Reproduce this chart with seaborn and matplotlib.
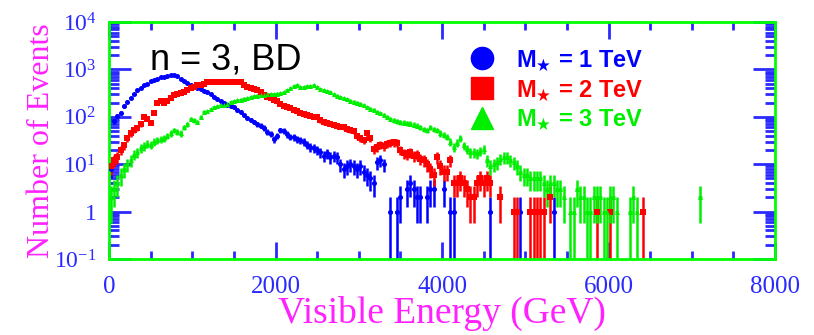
import numpy as np
import pandas as pd
import matplotlib
matplotlib.use("Agg")
import matplotlib.pyplot as plt
import seaborn as sns
from matplotlib.lines import Line2D
from matplotlib.ticker import MultipleLocator, FixedLocator, FixedFormatter, NullFormatter

# ---------------- data (counts per 40 GeV bin, first bin centred at 20 GeV) ----------------
bin_width = 40
first_center = 20

blue_counts = [
    8, 80, 105, 120, 170, 210, 250, 300, 360, 400,
    460, 500, 570, 600, 640, 680, 700, 720, 750, 760,
    720, 640, 580, 520, 460, 430, 400, 380, 350, 330,
    300, 265, 240, 215, 195, 180, 165, 160, 140, 125,
    108, 96, 86, 78, 70, 65, 58, 48, 44, 34,
    40, 52, 50, 43, 38, 37, 34, 32, 30, 26,
    23, 22, 20, 18, 15, 17, 14, 15, 14, 10,
    8, 9, 10, 9, 8, 9, 7, 6, 5, 4,
    11, 12, 10, 0, 1, 0, 1, 2, 0, 3,
    4, 3, 2, 2, 0, 2, 3, 3, 0, 0,
    3, 0, 1, 1, 0, 0, 0, 0, 0, 0,
    0, 0, 0, 0, 1, 0, 0, 0, 0, 0,
    0, 0, 0, 1, 0, 0, 0, 0, 0, 0,
    0, 0, 0, 1,
]

red_counts = [
    9, 12, 14, 20, 25, 35, 45, 52, 58, 70,
    98, 90, 75, 120, 200, 215, 195, 215, 250, 290,
    300, 320, 340, 360, 400, 430, 460, 470, 500, 530,
    540, 540, 545, 540, 545, 540, 545, 540, 545, 530,
    470, 425, 400, 380, 360, 330, 290, 260, 245, 230,
    220, 190, 170, 160, 150, 140, 130, 118, 112, 108,
    105, 100, 98, 85, 77, 75, 72, 68, 65, 62,
    60, 55, 52, 50, 40, 35, 32, 45, 36, 21,
    23, 26, 24, 27, 28, 29, 28, 20, 17, 16,
    18, 15, 16, 13, 12, 10, 8, 6, 14, 9,
    7, 7, 12, 4, 4, 5, 4, 3, 2, 2,
    4, 5, 4, 5, 4, 0, 0, 2, 0, 0,
    0, 1, 1, 0, 0, 0, 1, 1, 1, 1,
    1, 0, 2, 0, 0, 0, 0, 0, 0, 0,
    0, 0, 0, 0, 0, 0, 1, 0, 0, 0,
    1, 0, 0, 0, 0, 0, 0, 0, 0, 0,
    1,
]

green_counts = [
    2, 3, 4, 6, 8, 10, 12, 16, 18, 22,
    24, 27, 26, 30, 32, 34, 35, 40, 45, 52,
    48, 45, 60, 70, 90, 85, 78, 100, 125, 130,
    145, 160, 165, 175, 180, 190, 205, 215, 225, 230,
    240, 250, 260, 270, 280, 290, 295, 300, 305, 300,
    310, 320, 330, 360, 400, 440, 460, 430, 425, 440,
    450, 460, 420, 390, 370, 350, 330, 300, 280, 260,
    250, 235, 220, 210, 200, 190, 175, 160, 148, 140,
    125, 118, 110, 100, 91, 85, 80, 77, 75, 73,
    72, 68, 65, 60, 55, 52, 60, 55, 52, 45,
    42, 38, 30, 23, 28, 35, 25, 21, 18, 18,
    17, 19, 21, 12, 9, 10, 11, 13, 14, 14,
    12, 11, 9, 7, 6, 6, 5, 5, 5, 5,
    4, 3, 4, 4, 3, 3, 2, 0, 1, 1,
    3, 2, 2, 1, 1, 2, 2, 2, 1, 1,
    2, 2, 1, 0, 0, 0, 1, 2, 1, 0,
    0, 0, 0, 0, 0, 0, 0, 0, 0, 0,
    0, 0, 0, 0, 0, 0, 0, 2,
]

series_names = ["M1", "M2", "M3"]
series_labels = [r"$\mathbf{M}_{\bigstar}$ = 1 TeV", r"$\mathbf{M}_{\bigstar}$ = 2 TeV",
                 r"$\mathbf{M}_{\bigstar}$ = 3 TeV"]
series_colors = ["#0000ff", "#ff0000", "#00ee00"]
series_markers = ["o", "s", "^"]

x_major_ticks = [0, 2000, 4000, 6000, 8000]
y_major_ticks = [0.1, 1, 10, 100, 1000, 10000]
y_tick_labels = [r"$\mathregular{10^{-1}}$", "1", r"$\mathregular{10^{1}}$",
                 r"$\mathregular{10^{2}}$", r"$\mathregular{10^{3}}$", r"$\mathregular{10^{4}}$"]

frames = []
for name, counts in zip(series_names, [blue_counts, red_counts, green_counts]):
    counts = np.asarray(counts, dtype=float)
    energy = first_center + bin_width * np.arange(len(counts))
    frames.append(pd.DataFrame({"series": name, "energy": energy, "count": counts}))
df = pd.concat(frames, ignore_index=True)
df = df[df["count"] > 0]

# ---------------- style ----------------
sns.set_theme(style="white")
plt.rcParams["font.family"] = ["Liberation Serif", "DejaVu Serif"]
plt.rcParams["mathtext.fontset"] = "custom"
plt.rcParams["mathtext.rm"] = "DejaVu Sans"
plt.rcParams["mathtext.bf"] = "Liberation Sans:bold"
plt.rcParams["mathtext.fallback"] = "stixsans"

tick_blue = "#2a2aff"
frame_green = "#00ff00"
label_magenta = "#ff22ff"

fig = plt.figure(figsize=(8.14, 3.35), dpi=100)
ax = fig.add_axes([109 / 814, 1 - 259 / 335, 666 / 814, 237 / 335])

for name, color, marker in zip(series_names, series_colors, series_markers):
    sub = df[df["series"] == name]
    n = sub["count"].to_numpy()
    err = np.sqrt(n)
    lower = np.minimum(err, n - 1e-3)
    ax.errorbar(sub["energy"], n, xerr=bin_width / 2, yerr=[lower, err],
                fmt="none", ecolor=color, elinewidth=1.8, capsize=0, zorder=2)
    sns.scatterplot(data=sub, x="energy", y="count", color=color, marker=marker,
                    s=13, linewidth=0, ax=ax, zorder=3, legend=False)

ax.set_yscale("log")
ax.set_xlim(0, 8000)
ax.set_ylim(0.1, 10000)

# ticks
ax.xaxis.set_major_locator(FixedLocator(x_major_ticks))
ax.xaxis.set_minor_locator(MultipleLocator(500))
ax.yaxis.set_major_locator(FixedLocator(y_major_ticks))
ax.yaxis.set_major_formatter(FixedFormatter(y_tick_labels))
minor_y = [m * 10.0 ** e for e in range(-1, 4) for m in range(2, 10)]
ax.yaxis.set_minor_locator(FixedLocator(minor_y))
ax.yaxis.set_minor_formatter(NullFormatter())

ax.tick_params(which="both", direction="in", top=True, right=True, bottom=True, left=True,
               color=tick_blue, width=2)
ax.tick_params(axis="y", which="major", length=16, pad=9, labelsize=17, labelcolor=tick_blue)
ax.tick_params(axis="y", which="minor", length=7)
ax.tick_params(axis="x", which="major", length=12, pad=12, labelsize=18, labelcolor=tick_blue)
ax.tick_params(axis="x", which="minor", length=6)

for spine in ax.spines.values():
    spine.set_color(frame_green)
    spine.set_linewidth(2)
    spine.set_visible(True)

ax.set_xlabel("Visible Energy (GeV)", fontsize=27, color=label_magenta)
ax.set_ylabel("Number of Events", fontsize=23, color=label_magenta)
ax.xaxis.set_label_coords(0.5, -0.155)
ax.yaxis.set_label_coords(-0.08, 0.5)

ax.text(0.0616, 0.84, "n = 3, BD", transform=ax.transAxes, fontsize=26,
        family="Liberation Sans", color="black", va="center", ha="left")

handles = [Line2D([], [], marker=m, color=c, linestyle="none", markersize=16)
           for m, c in zip(series_markers, series_colors)]
leg = ax.legend(handles, series_labels, loc="upper left", bbox_to_anchor=(0.524, 0.89),
                frameon=False, borderpad=0, borderaxespad=0, handletextpad=0.45,
                labelspacing=0.22, prop={"family": "Liberation Sans", "weight": "bold", "size": 17})
for t, c in zip(leg.get_texts(), series_colors):
    t.set_color(c)

fig.savefig("out.png", dpi=100)
